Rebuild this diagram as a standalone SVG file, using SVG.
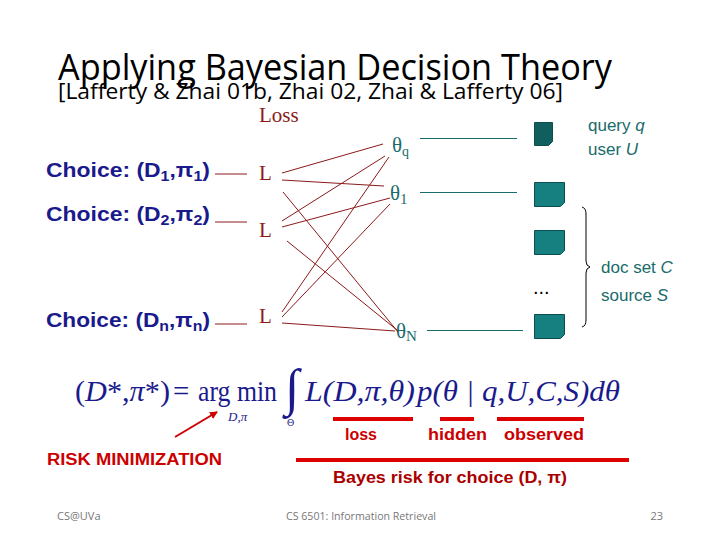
<svg xmlns="http://www.w3.org/2000/svg" width="720" height="540" viewBox="0 0 720 540">
<defs>
<style>
.title{font-family:"Open Sans","Liberation Sans",sans-serif;fill:#000}
.choice{font-family:"Liberation Sans",Arial,sans-serif;font-weight:bold;font-size:20px;fill:#1a1a8c}
.L{font-family:"Liberation Serif",serif;font-size:21px;fill:#8b1a1a}
.th{font-family:"Liberation Serif",serif;font-size:21px;fill:#1a6b6b}
.teal{font-family:"Liberation Sans",Arial,sans-serif;font-size:17px;fill:#1a6b6b}
.loss line{stroke:#8b1a1a;stroke-width:1}
.sq{fill:#168080;stroke:#0d4d4d;stroke-width:1}
.red{font-family:"Liberation Sans",Arial,sans-serif;font-weight:bold;font-size:16px;fill:#cc0000}
.foot{font-family:"Open Sans","Liberation Sans",sans-serif;font-size:11px;fill:#777}
.f{font-family:"Liberation Serif","Times New Roman",serif;fill:#1a1a8c}
</style>
<marker id="ah" markerWidth="8" markerHeight="8" refX="7" refY="4" orient="auto" markerUnits="userSpaceOnUse"><path d="M0,0 L8,4 L0,8 z" fill="#cc0000"/></marker>
</defs>
<rect width="720" height="540" fill="#fff"/>
<g id="title">
<text class="title" x="58" y="80" font-size="36" textLength="554" lengthAdjust="spacingAndGlyphs">Applying Bayesian Decision Theory</text>
<text class="title" x="58" y="99" font-size="21" textLength="505" lengthAdjust="spacingAndGlyphs">[Lafferty &amp; Zhai 01b, Zhai 02, Zhai &amp; Lafferty 06]</text>
</g>
<g id="loss-label"><text class="L" x="259" y="122" font-size="21">Loss</text></g>
<g id="choice1"><text class="choice" x="46" y="177" textLength="164" lengthAdjust="spacingAndGlyphs">Choice: (D<tspan font-size="14" dy="4">1</tspan><tspan dy="-4">,π</tspan><tspan font-size="14" dy="4">1</tspan><tspan dy="-4">)</tspan></text></g>
<g id="choice2"><text class="choice" x="46" y="221" textLength="164" lengthAdjust="spacingAndGlyphs">Choice: (D<tspan font-size="14" dy="4">2</tspan><tspan dy="-4">,π</tspan><tspan font-size="14" dy="4">2</tspan><tspan dy="-4">)</tspan></text></g>
<g id="choicen"><text class="choice" x="46" y="327" textLength="164" lengthAdjust="spacingAndGlyphs">Choice: (D<tspan font-size="14" dy="4">n</tspan><tspan dy="-4">,π</tspan><tspan font-size="14" dy="4">n</tspan><tspan dy="-4">)</tspan></text></g>
<g id="L1"><text class="L" x="259" y="180">L</text></g>
<g id="L2"><text class="L" x="259" y="237">L</text></g>
<g id="Ln"><text class="L" x="259" y="323">L</text></g>
<g id="thq"><text class="th" x="392" y="152">θ<tspan font-size="14" dy="4">q</tspan></text></g>
<g id="th1"><text class="th" x="390" y="200">θ<tspan font-size="15" dy="4">1</tspan></text></g>
<g id="thN"><text class="th" x="396" y="338">θ<tspan font-size="15" dy="3">N</tspan></text></g>
<g id="q-doc"><path class="sq" d="M534.5,122.5 h18 v19 l-4,4 h-14 z" style="fill:#115e5e"/></g>
<g id="doc1"><path class="sq" d="M534.5,182.5 h30 v20 l-4,4 h-26 z"/></g>
<g id="doc2"><path class="sq" d="M534.5,230.5 h30 v20 l-4,4 h-26 z"/></g>
<g id="docN"><path class="sq" d="M534.5,314.5 h30 v20 l-4,4 h-26 z"/></g>
<g id="dots"><text x="533" y="294" font-family="Liberation Sans,Arial,sans-serif" font-size="20" fill="#000">...</text></g>
<g id="labels-right">
<text class="teal" x="588" y="131">query  <tspan font-style="italic">q</tspan></text>
<text class="teal" x="588" y="155">user <tspan font-style="italic">U</tspan></text>
<text class="teal" x="601" y="273">doc set <tspan font-style="italic">C</tspan></text>
<text class="teal" x="601" y="301">source <tspan font-style="italic">S</tspan></text>
<path d="M582,207 Q586,208 586,214 L586,261 Q586,266 590,267 Q586,268 586,273 L586,320 Q586,326 582,327" fill="none" stroke="#000" stroke-width="1"/>
</g>
<g id="connectors" class="loss">
<line x1="215" y1="174" x2="247" y2="174"/>
<line x1="215" y1="222" x2="247" y2="222"/>
<line x1="215" y1="324" x2="247" y2="324"/>
<line x1="282" y1="173" x2="383" y2="144"/>
<line x1="282" y1="180" x2="384" y2="186"/>
<line x1="283" y1="192" x2="398" y2="332"/>
<line x1="282" y1="221" x2="385" y2="156"/>
<line x1="282" y1="227" x2="390" y2="198"/>
<line x1="287" y1="241" x2="397" y2="330"/>
<line x1="282" y1="312" x2="389" y2="157"/>
<line x1="282" y1="317" x2="390" y2="204"/>
<line x1="282" y1="323" x2="395" y2="331"/>
<line x1="420" y1="138.5" x2="517" y2="138.5" style="stroke:#1a6b6b"/>
<line x1="420" y1="192.5" x2="517" y2="192.5" style="stroke:#1a6b6b"/>
<line x1="427" y1="330.5" x2="523" y2="330.5" style="stroke:#1a6b6b"/>
<line x1="175" y1="437" x2="217" y2="412" style="stroke:#cc0000;stroke-width:2" marker-end="url(#ah)"/>
</g>
<g id="formula">
<text class="f" x="75" y="401" font-size="29" textLength="95" lengthAdjust="spacingAndGlyphs">(<tspan font-style="italic">D</tspan>*,<tspan font-style="italic">π</tspan>*)</text>
<text class="f" x="173" y="401" font-size="29">=</text>
<text class="f" x="198" y="401" font-size="29" textLength="79" lengthAdjust="spacingAndGlyphs">arg min</text>
<text class="f" x="228" y="421" font-size="13" font-style="italic">D,π</text>
<text class="f" x="285" y="405" font-size="52">∫</text>
<text class="f" x="287" y="426" font-size="10">Θ</text>
<text class="f" x="305" y="401" font-size="29" font-style="italic" textLength="110" lengthAdjust="spacingAndGlyphs">L(D,π,θ)</text>
<text class="f" x="417" y="401" font-size="29" font-style="italic" textLength="203" lengthAdjust="spacingAndGlyphs">p(θ | q,U,C,S)dθ</text>
</g>
<g id="underlines" fill="#dd0000">
<rect x="333" y="417" width="80" height="4"/>
<rect x="440" y="417" width="34" height="4"/>
<rect x="497" y="417" width="87" height="4"/>
<rect x="296" y="458" width="333" height="4"/>
</g>
<g id="red-labels">
<text class="red" x="361" y="440" text-anchor="middle">loss</text>
<text class="red" x="428" y="440" textLength="59" lengthAdjust="spacingAndGlyphs">hidden</text>
<text class="red" x="504" y="440" textLength="80" lengthAdjust="spacingAndGlyphs">observed</text>
<text class="red" x="47" y="465" textLength="175" lengthAdjust="spacingAndGlyphs">RISK MINIMIZATION</text>
<text class="red" x="333" y="483" textLength="234" lengthAdjust="spacingAndGlyphs" style="fill:#aa0000">Bayes risk for choice (D, π)</text>
</g>
<g id="footer">
<text class="foot" x="57" y="520">CS@UVa</text>
<text class="foot" x="361" y="520" text-anchor="middle" textLength="150" lengthAdjust="spacingAndGlyphs">CS 6501: Information Retrieval</text>
<text class="foot" x="663" y="520" text-anchor="end">23</text>
</g>
</svg>
